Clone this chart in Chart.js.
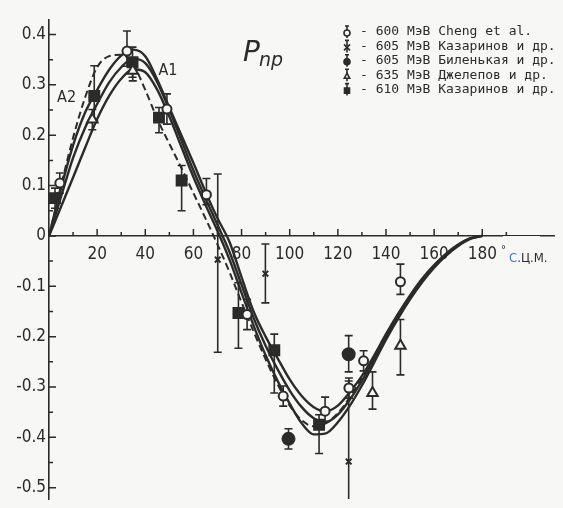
<!DOCTYPE html>
<html>
<head>
<meta charset="utf-8">
<script src="https://cdn.jsdelivr.net/npm/chart.js@4.4.1/dist/chart.umd.min.js"></script>
<style>
  html, body { margin: 0; padding: 0; background: #f7f7f5; }
  #wrap { width: 563px; height: 508px; }
</style>
</head>
<body>
<div id="wrap"><canvas id="grafico" width="563" height="508"></canvas></div>
<script>
// ================= ДАННЫЕ =================
// угол рассеяния в с.ц.м., градусы (сетка для теоретических кривых)
const angles = [0, 5, 10, 15, 20, 25, 30, 35, 40, 45, 50, 55, 60, 65, 70, 75, 80, 85, 90,
    95, 100, 105, 110, 115, 120, 125, 130, 135, 140, 145, 150, 155, 160, 165, 170, 175, 180];

// решения A1 (три сплошные кривые)
const curveA1a = [0, 0.095, 0.18, 0.245, 0.29, 0.33, 0.358, 0.37, 0.357, 0.31, 0.255, 0.2, 0.145,
    0.088, 0.035, -0.012, -0.082, -0.15, -0.2, -0.243, -0.285, -0.318, -0.34, -0.348, -0.337,
    -0.31, -0.278, -0.238, -0.195, -0.155, -0.118, -0.085, -0.058, -0.035, -0.017, -0.005, 0];
const curveA1b = [0, 0.078, 0.155, 0.215, 0.262, 0.305, 0.335, 0.352, 0.343, 0.305, 0.25, 0.19,
    0.13, 0.075, 0.022, -0.032, -0.097, -0.163, -0.218, -0.265, -0.307, -0.34, -0.362, -0.37,
    -0.355, -0.325, -0.288, -0.245, -0.2, -0.159, -0.121, -0.088, -0.06, -0.036, -0.018, -0.005, 0];
const curveA1c = [0, 0.058, 0.116, 0.175, 0.232, 0.278, 0.312, 0.331, 0.325, 0.29, 0.237, 0.177,
    0.117, 0.062, 0.01, -0.047, -0.113, -0.178, -0.237, -0.288, -0.333, -0.372, -0.394, -0.392,
    -0.37, -0.337, -0.297, -0.252, -0.206, -0.164, -0.126, -0.092, -0.063, -0.039, -0.02, -0.006, 0];
// решение A2 (штриховая)
const curveA2 = [0, 0.1, 0.195, 0.275, 0.335, 0.357, 0.36, 0.34, 0.29, 0.232, 0.183, 0.135, 0.085,
    0.035, -0.017, -0.072, -0.132, -0.19, -0.245, -0.295, -0.337, -0.366, -0.378, -0.372, -0.352,
    -0.32, -0.282, -0.24, -0.196, -0.156, -0.119, -0.087, -0.059, -0.036, -0.018, -0.005, 0];

// 600 МэВ Cheng et al.
const chengX = [4.5, 32.4, 49, 65.4, 82.3, 97.3, 114.7, 124.6, 130.7, 146];
const chengY = [0.105, 0.367, 0.252, 0.082, -0.156, -0.318, -0.348, -0.302, -0.248, -0.091];
const chengUp = [0.02, 0.04, 0.03, 0.032, 0.03, 0.02, 0.028, 0.02, 0.02, 0.035];
const chengDown = [0.02, 0.03, 0.03, 0.02, 0.03, 0.02, 0.02, 0.02, 0.02, 0.025];

// 605 МэВ Казаринов и др.
const kaz605X = [70.1, 89.9, 124.5];
const kaz605Y = [-0.047, -0.075, -0.448];
const kaz605Up = [0.17, 0.059, 0.16];
const kaz605Down = [0.184, 0.058, 0.12];

// 605 МэВ Биленькая и др.
const bilX = [99.5, 124.5];
const bilY = [-0.403, -0.235];
const bilUp = [0.02, 0.037];
const bilDown = [0.02, 0.035];

// 635 МэВ Джелепов и др.
const dzhX = [18, 34.8, 134.4, 146];
const dzhY = [0.231, 0.328, -0.312, -0.218];
const dzhUp = [0.02, 0.02, 0.042, 0.052];
const dzhDown = [0.02, 0.02, 0.032, 0.058];

// 610 МэВ Казаринов и др.
const kaz610X = [2.5, 18.8, 34.7, 45.7, 55.1, 78.7, 93.6, 112.2];
const kaz610Y = [0.075, 0.278, 0.345, 0.235, 0.11, -0.153, -0.227, -0.375];
const kaz610Up = [0.02, 0.06, 0.03, 0.02, 0.03, 0.06, 0.032, 0.02];
const kaz610Down = [0.02, 0.05, 0.03, 0.03, 0.06, 0.07, 0.085, 0.057];

const legendTexts = [
    '- 600 МэВ Cheng et al.',
    '- 605 МэВ Казаринов и др.',
    '- 605 МэВ Биленькая и др.',
    '- 635 МэВ Джелепов и др.',
    '- 610 МэВ Казаринов и др.'
];

const xTicks = [20, 40, 60, 80, 100, 120, 140, 160, 180];
const yTicks = [-0.5, -0.4, -0.3, -0.2, -0.1, 0, 0.1, 0.2, 0.3, 0.4];

// ================= ОФОРМЛЕНИЕ =================
const INK = '#2b2b2b';
const PAPER = '#f7f7f5';
const FONT_AXIS = '"DejaVu Sans Condensed", "Liberation Sans Narrow", sans-serif';

const pts = (xs, ys) => xs.map((v, i) => ({ x: v, y: ys[i] }));

function curva(values, dashed) {
    return {
        data: pts(angles, values),
        showLine: true,
        pointRadius: 0,
        borderColor: INK,
        borderWidth: dashed ? 2 : 2.4,
        borderDash: dashed ? [7, 4] : [],
        cubicInterpolationMode: 'monotone',
        fill: false
    };
}

function pontos(xs, ys, up, down, estilo, raio, cheio) {
    return {
        data: pts(xs, ys),
        errUp: up,
        errDown: down,
        pointStyle: estilo,
        pointRadius: raio,
        pointBorderWidth: 2,
        pointBorderColor: INK,
        pointBackgroundColor: cheio ? INK : PAPER,
        showLine: false
    };
}

const markerSets = [
    pontos(chengX, chengY, chengUp, chengDown, 'circle', 4.5, false),
    pontos(kaz605X, kaz605Y, kaz605Up, kaz605Down, 'crossRot', 4, false),
    pontos(bilX, bilY, bilUp, bilDown, 'circle', 6, true),
    pontos(dzhX, dzhY, dzhUp, dzhDown, 'triangle', 6, false),
    pontos(kaz610X, kaz610Y, kaz610Up, kaz610Down, 'rect', 7, true)
];

// ================= ПЛАГИН: ошибки, засечки, подписи, легенда =================
function marcador(ctx, estilo, x, y, r, cheio) {
    ctx.beginPath();
    if (estilo === 'circle') {
        ctx.arc(x, y, r, 0, Math.PI * 2);
    } else if (estilo === 'rect') {
        ctx.rect(x - r, y - r, 2 * r, 2 * r);
    } else if (estilo === 'triangle') {
        ctx.moveTo(x, y - r);
        ctx.lineTo(x + r * 0.9, y + r * 0.7);
        ctx.lineTo(x - r * 0.9, y + r * 0.7);
        ctx.closePath();
    } else if (estilo === 'crossRot') {
        ctx.moveTo(x - r, y - r); ctx.lineTo(x + r, y + r);
        ctx.moveTo(x + r, y - r); ctx.lineTo(x - r, y + r);
        ctx.stroke();
        return;
    }
    ctx.fillStyle = cheio ? INK : PAPER;
    ctx.fill();
    ctx.stroke();
}

const extras = {
    id: 'extras',
    beforeDatasetDraw(chart, args) {
        const ds = chart.data.datasets[args.index];
        if (!ds.errUp) return;
        const { ctx, chartArea, scales: { x, y } } = chart;
        ctx.save();
        ctx.beginPath();
        ctx.rect(chartArea.left, chartArea.top, chartArea.width, chartArea.height);
        ctx.clip();
        ctx.strokeStyle = INK;
        ctx.lineWidth = 1.6;
        ds.data.forEach((p, i) => {
            const px = x.getPixelForValue(p.x);
            const top = y.getPixelForValue(p.y + ds.errUp[i]);
            const bot = y.getPixelForValue(p.y - ds.errDown[i]);
            ctx.beginPath();
            ctx.moveTo(px, top); ctx.lineTo(px, bot);
            ctx.moveTo(px - 4, top); ctx.lineTo(px + 4, top);
            ctx.moveTo(px - 4, bot); ctx.lineTo(px + 4, bot);
            ctx.stroke();
        });
        ctx.restore();
    },
    afterDraw(chart) {
        const { ctx, scales: { x, y } } = chart;
        const x0 = x.getPixelForValue(0);
        const y0 = y.getPixelForValue(0);
        ctx.save();
        ctx.strokeStyle = INK;
        ctx.lineWidth = 1.5;

        // засечки по оси углов (вверх от оси)
        ctx.beginPath();
        for (let a = 10; a <= 190; a += 10) {
            const px = x.getPixelForValue(a);
            ctx.moveTo(px, y0);
            ctx.lineTo(px, y0 - (a % 20 === 0 ? 7 : 4));
        }
        // засечки по оси поляризации (вправо от оси)
        for (let v = -0.5; v <= 0.4001; v += 0.05) {
            const py = y.getPixelForValue(v);
            const major = Math.abs(Math.round(v * 20)) % 2 === 0;
            ctx.moveTo(x0, py);
            ctx.lineTo(x0 + (major ? 7 : 4), py);
        }
        ctx.stroke();

        // подпись оси углов
        ctx.fillStyle = PAPER;
        ctx.fillRect(503, 236, 37, 26);
        ctx.textBaseline = 'alphabetic';
        ctx.textAlign = 'left';
        ctx.fillStyle = INK;
        ctx.font = '11px ' + FONT_AXIS;
        ctx.fillText('°', 501, 253);
        ctx.font = '13px ' + FONT_AXIS;
        ctx.fillStyle = '#3b78e7';
        ctx.fillText('С', 509, 262);
        ctx.fillStyle = INK;
        ctx.fillText('.Ц.М.', 509 + ctx.measureText('С').width, 262);

        // P_np
        ctx.font = 'italic 28px "DejaVu Sans", sans-serif';
        ctx.fillText('P', 243, 61);
        ctx.font = 'italic 19px "DejaVu Sans", sans-serif';
        ctx.fillText('np', 259, 66);

        // метки решений
        ctx.font = '16px ' + FONT_AXIS;
        ctx.textAlign = 'center';
        ctx.textBaseline = 'middle';
        ctx.fillText('A1', x.getPixelForValue(49.4), y.getPixelForValue(0.327));
        ctx.fillText('A2', x.getPixelForValue(7.3), y.getPixelForValue(0.275));

        // легенда
        ctx.font = '13px "DejaVu Sans Mono", monospace';
        ctx.textAlign = 'left';
        ctx.textBaseline = 'middle';
        ctx.lineWidth = 1.6;
        legendTexts.forEach((txt, i) => {
            const cy = 32 + i * 14.4;
            const cx = 347;
            const ds = markerSets[i];
            ctx.strokeStyle = INK;
            ctx.beginPath();
            ctx.moveTo(cx, cy - 6); ctx.lineTo(cx, cy + 6);
            ctx.moveTo(cx - 2, cy - 6); ctx.lineTo(cx + 2, cy - 6);
            ctx.stroke();
            const cheio = ds.pointBackgroundColor === INK;
            marcador(ctx, ds.pointStyle, cx, cy + 1, ds.pointStyle === 'rect' ? 2.5 : 3, cheio);
            ctx.fillStyle = INK;
            ctx.fillText(txt, 360, cy);
        });
        ctx.restore();
    }
};

// ================= ГРАФИК =================
const ctx = document.getElementById('grafico').getContext('2d');
new Chart(ctx, {
    type: 'scatter',
    data: {
        datasets: [
            ...markerSets,
            curva(curveA1a, false),
            curva(curveA1b, false),
            curva(curveA1c, false),
            curva(curveA2, true)
        ]
    },
    options: {
        responsive: false,
        animation: false,
        devicePixelRatio: 1,
        layout: { padding: { top: 20, right: 0, bottom: 0, left: 0 } },
        plugins: { legend: { display: false }, tooltip: { enabled: false } },
        scales: {
            x: {
                type: 'linear',
                min: 0,
                max: 209.8,
                position: { y: 0 },
                afterBuildTicks: s => { s.ticks = xTicks.map(v => ({ value: v })); },
                afterFit: s => { s.paddingLeft = 0; s.paddingRight = 0; },
                ticks: {
                    autoSkip: false,
                    maxRotation: 0,
                    padding: 8,
                    color: INK,
                    font: { family: FONT_AXIS, size: 17 },
                    callback: v => String(v)
                },
                grid: { display: false, drawTicks: false },
                border: { display: true, color: INK, width: 1.6 }
            },
            y: {
                type: 'linear',
                position: 'left',
                min: -0.5224,
                max: 0.4288,
                afterBuildTicks: s => { s.ticks = yTicks.map(v => ({ value: v })); },
                afterFit: s => { s.width = 49; s.paddingTop = 0; s.paddingBottom = 0; },
                ticks: {
                    padding: 3,
                    color: INK,
                    font: { family: FONT_AXIS, size: 17 },
                    callback: v => (v === 0 ? '0' : v.toFixed(1))
                },
                grid: { display: false, drawTicks: false },
                border: { display: true, color: INK, width: 1.6 }
            }
        }
    },
    plugins: [extras]
});
</script>
</body>
</html>
